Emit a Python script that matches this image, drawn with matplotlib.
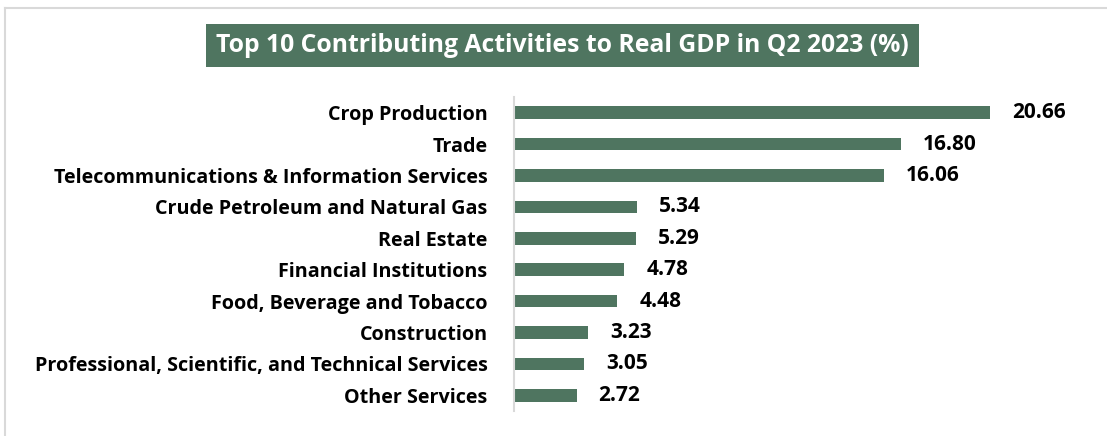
import matplotlib
matplotlib.use('Agg')
import matplotlib.pyplot as plt
from matplotlib.lines import Line2D
from matplotlib.patches import Rectangle

# data
activities = [
    'Crop Production',
    'Trade',
    'Telecommunications & Information Services',
    'Crude Petroleum and Natural Gas',
    'Real Estate',
    'Financial Institutions',
    'Food, Beverage and Tobacco',
    'Construction',
    'Professional, Scientific, and Technical Services',
    'Other Services',
]
shares = [20.66, 16.80, 16.06, 5.34, 5.29, 4.78, 4.48, 3.23, 3.05, 2.72]
title = 'Top 10 Contributing Activities to Real GDP in Q2 2023 (%)'

green = '#4F7560'
plt.rcParams['font.family'] = ['Open Sans', 'DejaVu Sans']

W, H = 1107, 436
fig = plt.figure(figsize=(W / 100, H / 100), dpi=100)

# bars start at x=514px, about 23 px per percentage point
xmax = 24
ax = fig.add_axes([514 / W, 1 - 411 / H, 23.04 * xmax / W, 314 / H])
y = list(range(len(activities)))
ax.barh(y, shares, height=0.4, color=green)
ax.set_xlim(0, xmax)
ax.set_ylim(len(activities) - 0.5, -0.5)
ax.set_yticks(y)
ax.set_yticklabels(activities, fontsize=14.2, fontweight='bold', color='black')
ax.tick_params(axis='y', length=0, pad=19)
ax.set_xticks([])
for s in ['top', 'right', 'bottom']:
    ax.spines[s].set_visible(False)
ax.spines['left'].set_color('#d9d9d9')
ax.spines['left'].set_linewidth(1.5)

for yi, v in zip(y, shares):
    ax.annotate(f'{v:.2f}', (v, yi), xytext=(22, 0), textcoords='offset pixels',
                va='center', ha='left', fontsize=15, fontweight='bold')

# title in a filled box
fig.add_artist(Rectangle((206 / W, 1 - 67 / H), (919 - 206) / W, 43 / H,
                         transform=fig.transFigure, fc=green, ec='none'))
fig.text(562 / W, 1 - 46 / H, title, ha='center', va='center', color='white',
         fontsize=17.8, fontweight='bold')

# light frame at left/top
fig.add_artist(Line2D([5 / W, 5 / W], [0, 1 - 8 / H], transform=fig.transFigure,
                      color='#d9d9d9', lw=1.5))
fig.add_artist(Line2D([5 / W, 1], [1 - 8 / H, 1 - 8 / H], transform=fig.transFigure,
                      color='#d9d9d9', lw=1.5))

fig.savefig('out.png', dpi=100)
